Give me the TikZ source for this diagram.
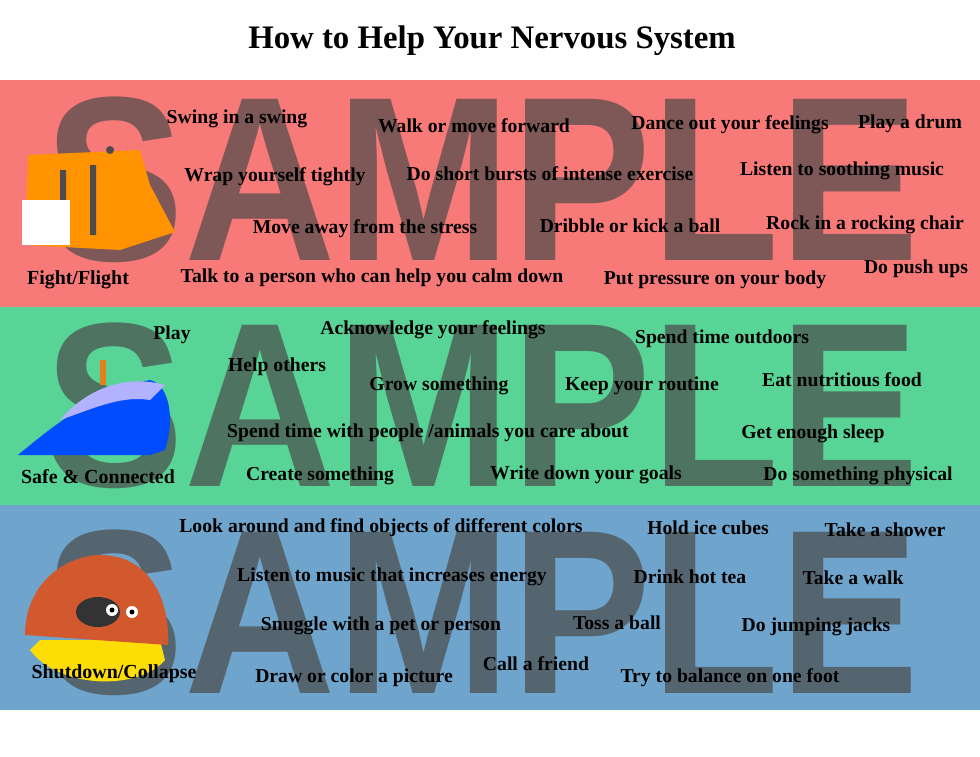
\documentclass[tikz,border=0pt]{standalone}
\usepackage{fontspec}
\setmainfont{Liberation Serif}
\newfontfamily\wmfont{Liberation Sans}
\usetikzlibrary{calc}
\definecolor{redband}{HTML}{F87A78}
\definecolor{greenband}{HTML}{58D496}
\definecolor{blueband}{HTML}{6FA5CC}
\definecolor{wmgray}{HTML}{4A4A4A}

\begin{document}
\begin{tikzpicture}[x=0.03cm, y=-0.03cm,
        tip_style/.style={font=\bfseries\fontsize{16.8}{18}\selectfont, inner sep=0pt},
        head_style/.style={font=\bfseries\fontsize{17}{18}\selectfont, inner sep=0pt},
        mark_style/.style={font=\wmfont\bfseries, text=wmgray, opacity=0.7, inner sep=0pt}]

        \useasboundingbox (0,0) rectangle (980,757);
        \fill[white] (0,0) rectangle (980,757);
        \node[font=\bfseries\fontsize{28}{30}\selectfont] (title) at (492,41) {How to Help Your Nervous System};

        % bands
        \fill[redband] (0,80) rectangle (980,307);
        \fill[greenband] (0,307) rectangle (980,505);
        \fill[blueband] (0,505) rectangle (980,710);

        % watermarks
        \node[mark_style] (m1) at (482,180) {\resizebox{26.2cm}{4.9cm}{SAMPLE}};
        \node[mark_style] (m2) at (482,406) {\resizebox{26.2cm}{4.9cm}{SAMPLE}};
        \node[mark_style] (m3) at (482,613) {\resizebox{26.2cm}{4.9cm}{SAMPLE}};

        % pictures
        \fill[orange!85!yellow] (28,155) -- (140,150) -- (150,185) -- (175,232) -- (120,250) -- (25,245) -- cycle;
        \fill[black!70] (110,150) circle (4) (60,170) rectangle (66,230) (90,165) rectangle (96,235);
        \fill[white] (22,200) rectangle (70,245);
        \fill[blue!70!cyan] (18,455) .. controls (60,420) and (100,390) .. (150,380) .. controls (170,385) and (175,420) .. (165,450) -- (150,455) -- cycle;
        \fill[white!70!blue] (60,420) .. controls (90,385) and (130,375) .. (165,385) -- (150,400) .. controls (120,395) and (90,410) .. cycle;
        \fill[orange!60!brown] (100,360) rectangle (106,385);
        \fill[yellow!80!orange] (30,650) .. controls (60,690) and (140,690) .. (165,660) -- (160,640) -- (40,640) -- cycle;
        \fill[brown!70!red] (25,635) .. controls (25,580) and (70,555) .. (100,555) .. controls (150,555) and (170,600) .. (168,645) -- cycle;
        \fill[black!80] (98,612) ellipse (22 and 15);
        \fill[white] (112,610) circle (6) (132,612) circle (6);
        \fill[black] (112,610) circle (2.5) (132,612) circle (2.5);

        % red band
        \node[tip_style] (r1) at (237,119) {Swing in a swing};
        \node[tip_style] (r2) at (474,126) {Walk or move forward};
        \node[tip_style] (r3) at (730,125) {Dance out your feelings};
        \node[tip_style] (r4) at (910,124) {Play a drum};
        \node[tip_style] (r5) at (275,177) {Wrap yourself tightly};
        \node[tip_style] (r6) at (550,174) {Do short bursts of intense exercise};
        \node[tip_style] (r7) at (842,171) {Listen to soothing music};
        \node[tip_style] (r8) at (365,229) {Move away from the stress};
        \node[tip_style] (r9) at (630,226) {Dribble or kick a ball};
        \node[tip_style] (r10) at (865,225) {Rock in a rocking chair};
        \node[head_style] (rh) at (78,280) {Fight/Flight};
        \node[tip_style] (r11) at (372,278) {Talk to a person who can help you calm down};
        \node[tip_style] (r12) at (715,280) {Put pressure on your body};
        \node[tip_style] (r13) at (916,269) {Do push ups};

        % green band
        \node[tip_style] (g1) at (172,335) {Play};
        \node[tip_style] (g2) at (433,330) {Acknowledge your feelings};
        \node[tip_style] (g3) at (722,339) {Spend time outdoors};
        \node[tip_style] (g4) at (277,367) {Help others};
        \node[tip_style] (g5) at (439,386) {Grow something};
        \node[tip_style] (g6) at (642,386) {Keep your routine};
        \node[tip_style] (g7) at (842,380) {Eat nutritious food};
        \node[tip_style] (g8) at (428,433) {Spend time with people /animals you care about};
        \node[tip_style] (g9) at (813,434) {Get enough sleep};
        \node[head_style] (gh) at (98,477) {Safe \& Connected};
        \node[tip_style] (g10) at (320,476) {Create something};
        \node[tip_style] (g11) at (586,475) {Write down your goals};
        \node[tip_style] (g12) at (858,476) {Do something physical};

        % blue band
        \node[tip_style] (b1) at (381,528) {Look around and find objects of different colors};
        \node[tip_style] (b2) at (708,528) {Hold ice cubes};
        \node[tip_style] (b3) at (885,530) {Take a shower};
        \node[tip_style] (b4) at (392,577) {Listen to music that increases energy};
        \node[tip_style] (b5) at (690,577) {Drink hot tea};
        \node[tip_style] (b6) at (853,578) {Take a walk};
        \node[tip_style] (b7) at (381,626) {Snuggle with a pet or person};
        \node[tip_style] (b8) at (617,623) {Toss a ball};
        \node[tip_style] (b9) at (816,627) {Do jumping jacks};
        \node[head_style] (bh) at (114,674) {Shutdown/Collapse};
        \node[tip_style] (b10) at (536,664) {Call a friend};
        \node[tip_style] (b11) at (354,678) {Draw or color a picture};
        \node[tip_style] (b12) at (730,678) {Try to balance on one foot};
\end{tikzpicture}
\end{document}
